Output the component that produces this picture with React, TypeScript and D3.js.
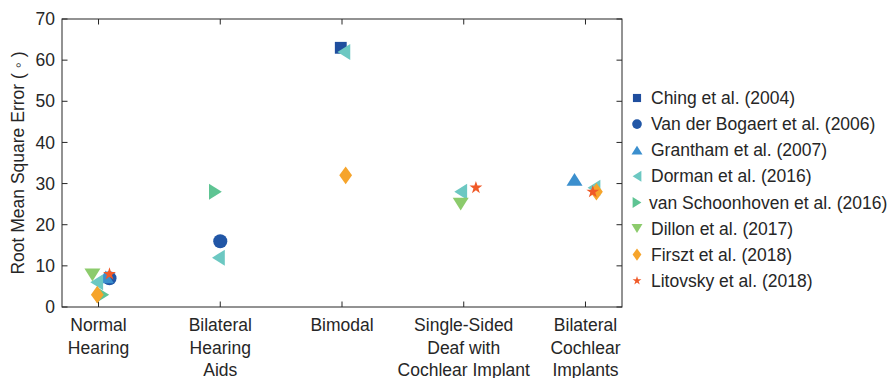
import React from "react";
import * as d3 from "d3";

// -- DATA --
const categories = [
  ["Normal", "Hearing"],
  ["Bilateral", "Hearing", "Aids"],
  ["Bimodal"],
  ["Single-Sided", "Deaf with", "Cochlear Implant"],
  ["Bilateral", "Cochlear", "Implants"],
];
const yTicks = [0, 10, 20, 30, 40, 50, 60, 70];

// each point: [category index (1-based), RMS error, jitter in category units]
const ching = [[3, 63, -0.01]];
const vanDerBogaert = [[1, 7, 0.09], [2, 16, 0]];
const grantham = [[1, 7.3, 0.06], [5, 31, -0.09]];
const dorman = [[1, 6, -0.015], [2, 12, -0.015], [3, 62, 0.015], [4, 28, -0.025], [5, 29, 0.07]];
const vanSchoonhoven = [[1, 3, 0.035], [2, 28, -0.04]];
const dillon = [[1, 7.8, -0.05], [4, 25, -0.025]];
const firszt = [[1, 3, -0.01], [3, 32, 0.03], [5, 28, 0.09]];
const litovsky = [[1, 8, 0.09], [4, 29, 0.1], [5, 28, 0.06]];

const series = [
  { name: "Ching et al. (2004)", pts: ching, shape: "square", color: "#1f4e9e" },
  { name: "Van der Bogaert et al. (2006)", pts: vanDerBogaert, shape: "circle", color: "#2156a6" },
  { name: "Grantham et al. (2007)", pts: grantham, shape: "up", color: "#3b8fce" },
  { name: "Dorman et al. (2016)", pts: dorman, shape: "left", color: "#6cc8c2" },
  { name: "van Schoonhoven et al. (2016)", pts: vanSchoonhoven, shape: "right", color: "#5ec493" },
  { name: "Dillon et al. (2017)", pts: dillon, shape: "down", color: "#8ccb6c" },
  { name: "Firszt et al. (2018)", pts: firszt, shape: "diamond", color: "#f6a42b" },
  { name: "Litovsky et al. (2018)", pts: litovsky, shape: "star", color: "#f05a28" },
];

// marker path centered at 0,0, s = nominal size in px
const markerPath = (shape: string, s: number) => {
  const h = s / 2;
  const d = s * 0.4; // half depth of triangles
  const poly = (p: number[][]) => "M" + p.map((q) => q.join(",")).join("L") + "Z";
  switch (shape) {
    case "square":
      return poly([[-s * 0.37, -s * 0.37], [s * 0.37, -s * 0.37], [s * 0.37, s * 0.37], [-s * 0.37, s * 0.37]]);
    case "circle":
      return d3.symbol(d3.symbolCircle, Math.PI * (s * 0.44) ** 2)() as string;
    case "up":
      return poly([[0, -d], [h, d], [-h, d]]);
    case "down":
      return poly([[0, d], [h, -d], [-h, -d]]);
    case "left":
      return poly([[-d, 0], [d, -h], [d, h]]);
    case "right":
      return poly([[d, 0], [-d, -h], [-d, h]]);
    case "diamond":
      return poly([[0, -s * 0.55], [s * 0.4, 0], [0, s * 0.55], [-s * 0.4, 0]]);
    default:
      return d3.symbol(d3.symbolStar, s * s * 0.2)() as string;
  }
};

const W = 896;
const H = 378;
const margin = { left: 62, right: 274, top: 19, bottom: 71 };
const font = "'Liberation Sans', Arial, sans-serif";
const ink = "#262626";
const fs = 17.5;

const App = () => {
  const x = d3.scaleLinear().domain([0.7, 5.3]).range([margin.left, W - margin.right]);
  const y = d3.scaleLinear().domain([0, 70]).range([H - margin.bottom, margin.top]);
  const [x0, x1] = x.range();
  const [y0, y1] = y.range();
  const tl = 5.5;

  return (
    <svg width={W} height={H} style={{ position: "absolute", left: 0, top: 0, fontFamily: font }}>
      <rect x={0} y={0} width={W} height={H} fill="#fff" />
      {/* frame */}
      <rect x={x0} y={y1} width={x1 - x0} height={y0 - y1} fill="none" stroke={ink} strokeWidth={1} />
      {/* y ticks, left and right, inward */}
      {yTicks.map((t) => (
        <g key={"y" + t}>
          <line x1={x0} x2={x0 + tl} y1={y(t)} y2={y(t)} stroke={ink} />
          <line x1={x1} x2={x1 - tl} y1={y(t)} y2={y(t)} stroke={ink} />
          <text x={x0 - 7} y={y(t)} dy="0.35em" textAnchor="end" fontSize={fs} fill={ink}>
            {t}
          </text>
        </g>
      ))}
      {/* x ticks, bottom and top */}
      {categories.map((lines, i) => (
        <g key={"x" + i}>
          <line x1={x(i + 1)} x2={x(i + 1)} y1={y0} y2={y0 - tl} stroke={ink} />
          <line x1={x(i + 1)} x2={x(i + 1)} y1={y1} y2={y1 + tl} stroke={ink} />
          <text textAnchor="middle" fontSize={fs} fill={ink}>
            {lines.map((l, j) => (
              <tspan key={j} x={x(i + 1)} y={331 + j * 22.5}>
                {l}
              </tspan>
            ))}
          </text>
        </g>
      ))}
      <text
        transform={`translate(24,${(y0 + y1) / 2}) rotate(-90)`}
        textAnchor="middle"
        fontSize={fs}
        fill={ink}
      >
        Root Mean Square Error ( ◦ )
      </text>
      {/* points */}
      {series.map((s) => (
        <g key={s.name} fill={s.color}>
          {s.pts.map((p, k) => (
            <path
              key={k}
              d={markerPath(s.shape, 16)}
              transform={`translate(${x(p[0] + p[2])},${y(p[1])})`}
            />
          ))}
        </g>
      ))}
      {/* legend */}
      {series.map((s, i) => (
        <g key={"lg" + i} transform={`translate(0,${98 + i * 26.1})`}>
          <path d={markerPath(s.shape, 11)} transform="translate(637,0)" fill={s.color} />
          <text x={s.shape === "right" ? 649 : 651} dy="0.35em" fontSize={fs} fill={ink}>
            {s.name}
          </text>
        </g>
      ))}
    </svg>
  );
};

export default App;
